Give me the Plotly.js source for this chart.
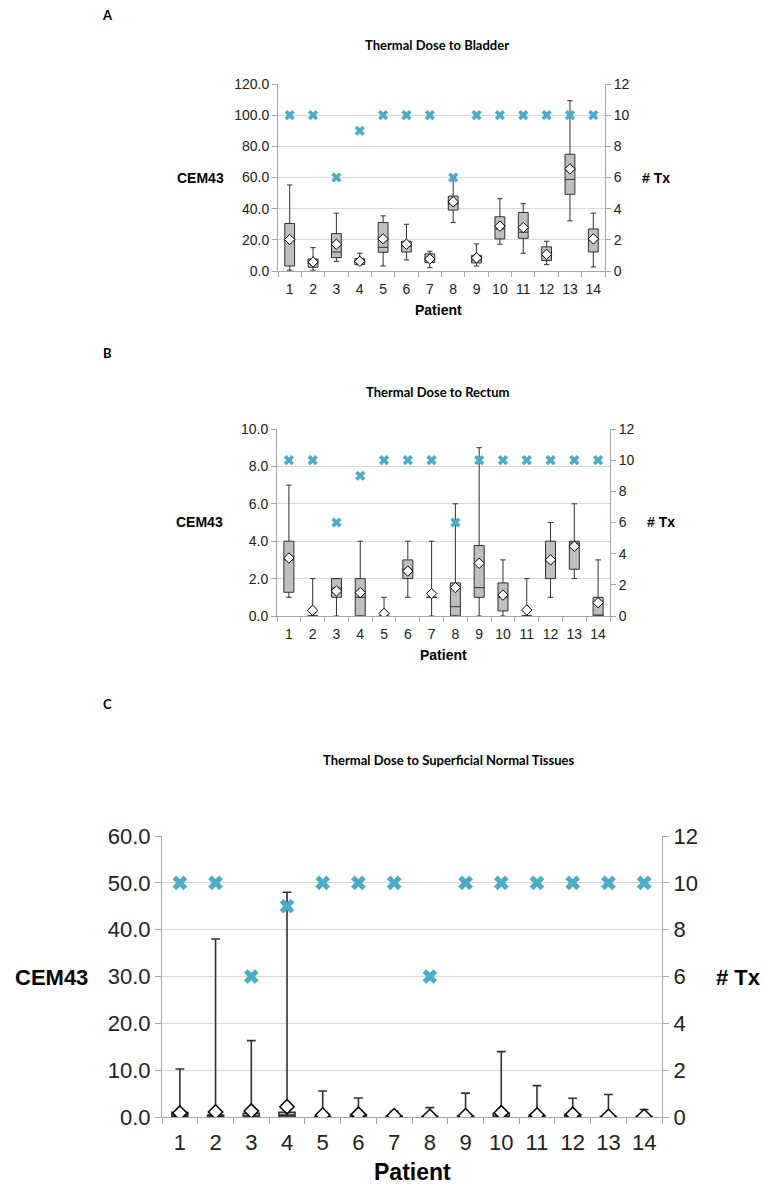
<!DOCTYPE html>
<html>
<head>
<meta charset="utf-8">
<script src="https://cdn.plot.ly/plotly-3.0.1.min.js"></script>
<style>html,body{margin:0;padding:0;background:#fff;}#chart{width:765px;height:1190px;}</style>
</head>
<body>
<div id="chart"></div>
<script>
// ---------- data ----------
const patients = [1,2,3,4,5,6,7,8,9,10,11,12,13,14];
const numTx = [10,10,6,9,10,10,10,6,10,10,10,10,10,10];

// Panel A: Bladder
const bladderMin    = [0.5, 0.5, 6.2, 4.0, 3.2, 7.1, 2.1, 31.1, 3.2, 17.2, 11.4, 4.1, 32.2, 2.6];
const bladderQ1     = [3.2, 2.4, 8.6, 4.1, 12.0, 12.2, 5.4, 39.1, 5.2, 20.6, 21.0, 6.7, 49.2, 12.2];
const bladderMedian = [20.0, 5.0, 12.2, 5.5, 15.2, 16.0, 7.0, 43.0, 7.0, 27.0, 24.9, 10.0, 58.8, 20.0];
const bladderQ3     = [30.5, 7.7, 24.0, 7.9, 31.1, 19.1, 11.0, 48.1, 10.1, 34.8, 37.6, 15.5, 74.9, 27.0];
const bladderMax    = [55.2, 15.0, 37.1, 11.4, 35.4, 30.0, 12.7, 58.4, 17.4, 46.4, 43.2, 19.1, 109.3, 37.1];
const bladderMean   = [20.2, 5.8, 17.2, 6.2, 20.6, 17.2, 7.7, 44.4, 8.4, 28.8, 27.9, 10.7, 65.5, 20.6];

// Panel B: Rectum
const rectumMin    = [1.0, 0.0, 0.0, 0.0, 0.0, 1.0, 0.0, 0.0, 0.0, 0.0, 0.0, 1.0, 2.0, 0.0];
const rectumQ1     = [1.27, 0.0, 1.0, 0.0, 0.0, 2.0, 1.0, 0.0, 1.0, 0.27, 0.0, 2.0, 2.5, 0.0];
const rectumMedian = [3.0, 0.0, 1.5, 1.0, 0.0, 2.5, 1.0, 0.5, 1.52, 1.0, 0.0, 3.0, 3.9, 0.0];
const rectumQ3     = [4.0, 0.0, 2.0, 2.0, 0.0, 3.0, 1.0, 1.77, 3.77, 1.77, 0.0, 4.0, 4.0, 1.0];
const rectumMax    = [7.0, 2.0, 2.0, 4.0, 1.0, 4.0, 4.0, 6.0, 9.0, 3.0, 2.0, 5.0, 6.0, 3.0];
const rectumMean   = [3.1, 0.3, 1.34, 1.25, 0.14, 2.4, 1.2, 1.52, 2.82, 1.12, 0.32, 3.0, 3.73, 0.71];

// Panel C: Superficial normal tissues
const superMin    = [0,0,0,0,0,0,0,0,0,0,0,0,0,0];
const superQ1     = [0,0,0,0,0,0,0,0,0,0,0,0,0,0];
const superMedian = [0.3, 0.1, 0.2, 0.4, 0.0, 0.1, 0.0, 0.0, 0.0, 0.2, 0.0, 0.1, 0.0, 0.0];
const superQ3     = [1.0, 0.4, 0.8, 1.0, 0.1, 0.5, 0.2, 0.1, 0.2, 0.8, 0.3, 0.5, 0.1, 0.1];
const superMax    = [10.25, 38.0, 16.3, 48.0, 5.55, 4.06, 1.2, 2.0, 5.1, 13.95, 6.7, 4.0, 4.8, 1.6];
const superMean   = [0.85, 1.07, 1.28, 2.2, 0.43, 0.57, 0.28, 0.14, 0.28, 0.9, 0.43, 0.57, 0.14, 0.14];

const leftRanges = [[0,120],[0,10],[0,60]];
const leftDticks = [20, 2, 10];
const txRange = [0,12];
const txDtick = 2;

// ---------- styling ----------
const W = 765, H = 1190;
const TX_COLOR = '#4bacc6';
const AXIS_COLOR = '#a6a6a6';
const GRID_COLOR = '#d9d9d9';
const TICK_FONT = 'Liberation Sans, Arial, sans-serif';
const TITLE_FONT = 'Lato, Carlito, Calibri, sans-serif';

const panels = [
  {min: bladderMin, q1: bladderQ1, med: bladderMedian, q3: bladderQ3, max: bladderMax, mean: bladderMean,
   px: [278, 605], py: [84, 271], fs: 14, boxW: 0.42, wl: 1, diam: 8, xs: 9, so: 5, tl: 5},
  {min: rectumMin, q1: rectumQ1, med: rectumMedian, q3: rectumQ3, max: rectumMax, mean: rectumMean,
   px: [277, 610], py: [429, 616], fs: 14, boxW: 0.42, wl: 1, diam: 8, xs: 9, so: 5, tl: 5},
  {min: superMin, q1: superQ1, med: superMedian, q3: superQ3, max: superMax, mean: superMean,
   px: [162, 662], py: [836, 1117], fs: 22, boxW: 0.45, wl: 1.6, diam: 11, xs: 13, so: 6, tl: 6}
];

const data = [];
const layout = {
  width: W, height: H, showlegend: false,
  margin: {l:0, r:0, t:0, b:0},
  paper_bgcolor: '#fff', plot_bgcolor: 'rgba(0,0,0,0)',
  annotations: []
};

const halfTicks = [];
for (let i = 0; i <= patients.length; i++) halfTicks.push(i + 0.5);

panels.forEach((p, i) => {
  const xa = i === 0 ? 'x' : 'x' + (i + 1);
  const yl = i === 0 ? 'y' : 'y' + (2 * i + 1);
  const yr = 'y' + (2 * i + 2);
  const xKey = i === 0 ? 'xaxis' : 'xaxis' + (i + 1);
  const ylKey = i === 0 ? 'yaxis' : 'yaxis' + (2 * i + 1);
  const yrKey = 'yaxis' + (2 * i + 2);
  const xd = [p.px[0] / W, p.px[1] / W];
  const yd = [1 - p.py[1] / H, 1 - p.py[0] / H];

  layout[xKey] = {
    domain: xd, anchor: yl, range: [0.5, 14.5],
    tickvals: patients, ticktext: patients.map(String), ticks: '',
    ticklabelstandoff: p.so,
    showline: true, linecolor: AXIS_COLOR, linewidth: 1,
    showgrid: false, zeroline: false,
    tickfont: {family: TICK_FONT, size: p.fs, color: '#222'},
    minor: {tickvals: halfTicks, ticks: 'outside', ticklen: p.tl, tickcolor: AXIS_COLOR, showgrid: false}
  };
  layout[ylKey] = {
    domain: yd, anchor: xa, range: leftRanges[i], dtick: leftDticks[i], tick0: 0,
    tickformat: '.1f', ticks: 'outside', ticklen: p.tl, tickcolor: AXIS_COLOR,
    showline: true, linecolor: AXIS_COLOR, linewidth: 1,
    showgrid: true, gridcolor: GRID_COLOR, gridwidth: 1, zeroline: false,
    tickfont: {family: TICK_FONT, size: p.fs, color: '#222'}
  };
  layout[yrKey] = {
    overlaying: yl, side: 'right', anchor: xa, range: txRange, dtick: txDtick, tick0: 0,
    ticks: 'outside', ticklen: p.tl, tickcolor: AXIS_COLOR,
    showline: true, linecolor: AXIS_COLOR, linewidth: 1,
    showgrid: false, zeroline: false,
    tickfont: {family: TICK_FONT, size: p.fs, color: '#222'}
  };

  data.push({
    type: 'box', x: patients, q1: p.q1, median: p.med, q3: p.q3,
    lowerfence: p.min, upperfence: p.max,
    xaxis: xa, yaxis: yl, width: p.boxW, whiskerwidth: 0.55,
    fillcolor: '#bfbfbf', line: {color: '#303030', width: p.wl},
    boxpoints: false, hoverinfo: 'skip'
  });
  data.push({
    type: 'scatter', mode: 'markers', x: patients, y: p.mean,
    xaxis: xa, yaxis: yl,
    marker: {symbol: 'diamond', size: p.diam, color: '#ffffff', line: {color: '#000000', width: i === 2 ? 1.5 : 1}},
    hoverinfo: 'skip'
  });
  data.push({
    type: 'scatter', mode: 'markers', x: patients, y: numTx,
    xaxis: xa, yaxis: yr,
    marker: {symbol: 'x', size: p.xs, color: TX_COLOR, line: {width: 0}},
    hoverinfo: 'skip'
  });
});

function ann(text, x, y, size, family, xanchor) {
  layout.annotations.push({
    text: text, xref: 'paper', yref: 'paper', x: x / W, y: 1 - y / H,
    xanchor: xanchor || 'center', yanchor: 'middle', showarrow: false,
    font: {family: family, size: size, color: '#000'}
  });
}
// Panel letters and titles
ann('<b>A</b>', 107, 15, 13, TITLE_FONT);
ann('<b>Thermal Dose to Bladder</b>', 437, 45, 13, TITLE_FONT);
ann('<b>B</b>', 107, 353, 13, TITLE_FONT);
ann('<b>Thermal Dose to Rectum</b>', 437, 392, 13, TITLE_FONT);
ann('<b>C</b>', 107, 704, 13, TITLE_FONT);
ann('<b>Thermal Dose to Superficial Normal Tissues</b>', 448, 760, 13, TITLE_FONT);
// Axis labels
ann('<b>CEM43</b>', 200, 178, 14, TICK_FONT);
ann('<b># Tx</b>', 656, 178, 14, TICK_FONT);
ann('<b>Patient</b>', 439, 310, 14, TICK_FONT);
ann('<b>CEM43</b>', 199, 522, 14, TICK_FONT);
ann('<b># Tx</b>', 661, 522, 14, TICK_FONT);
ann('<b>Patient</b>', 443, 655, 14, TICK_FONT);
ann('<b>CEM43</b>', 52, 977, 22, TICK_FONT);
ann('<b># Tx</b>', 738, 977, 22, TICK_FONT);
ann('<b>Patient</b>', 412, 1172, 23, TICK_FONT);

Plotly.newPlot('chart', data, layout, {staticPlot: true});
</script>
</body>
</html>
